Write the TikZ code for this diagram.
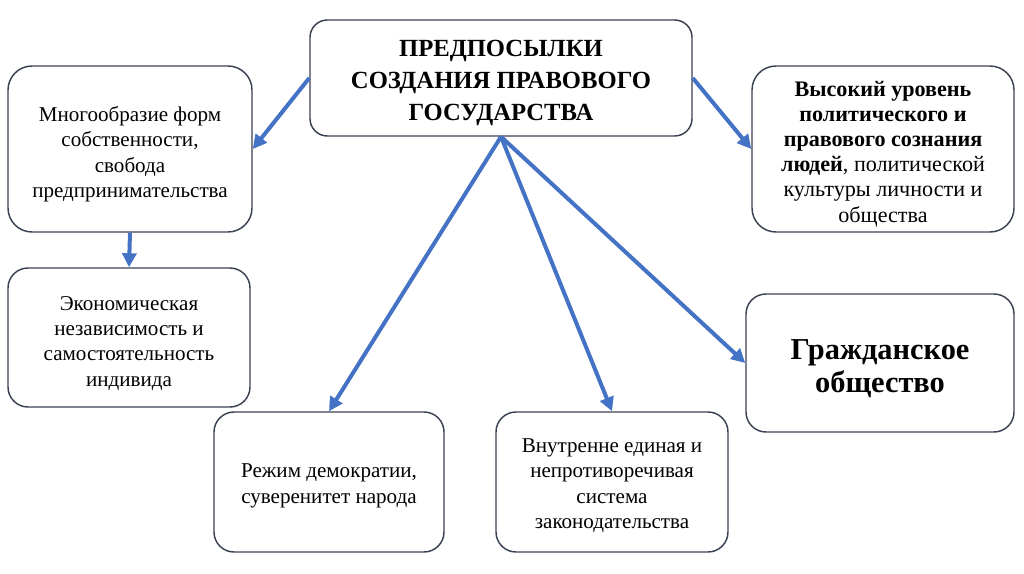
\documentclass[tikz,border=0pt]{standalone}
\usepackage{fontspec}
\setmainfont{Liberation Serif}
\usetikzlibrary{positioning,arrows.meta}

\definecolor{boxline}{RGB}{58,66,82}
\definecolor{arrowblue}{RGB}{68,114,196}
\newcommand{\lift}[1][19pt]{\rule{0pt}{#1}}

\begin{document}
\begin{tikzpicture}[
    x=0.75pt, y=-0.75pt,
    box/.style={draw=boxline, line width=1.1pt, rounded corners=15pt, align=center, inner sep=2pt,
                font=\fontsize{15.8}{19}\selectfont},
    arr/.style={-{Triangle[width=10.5pt,length=10.5pt]}, line width=3pt, draw=arrowblue}
]
    \useasboundingbox (0,0) rectangle (1024,574);

    % Main box
    \node[box, minimum width=286.5pt, minimum height=87pt, rounded corners=13pt,
          font=\fontsize{18.5}{24}\selectfont\bfseries] (premise) at (501,78)
        {\lift[20pt]ПРЕДПОСЫЛКИ\\СОЗДАНИЯ ПРАВОВОГО\\ГОСУДАРСТВА};

    % Left column
    \node[box, minimum width=183pt, minimum height=124.5pt, rounded corners=18pt] (property) at (130,149)
        {\lift Многообразие форм\\собственности,\\свобода\\предпринимательства};
    \node[box, minimum width=181.5pt, minimum height=104.25pt] (economy) at (129,337.5)
        {\lift Экономическая\\независимость и\\самостоятельность\\индивида};

    % Right column
    \node[box, minimum width=196.5pt, minimum height=124.5pt, rounded corners=18pt,
          font=\fontsize{16.6}{18.8}\selectfont] (awareness) at (883,149)
        {\lift\textbf{Высокий уровень}\\\textbf{политического и}\\\textbf{правового сознания}\\\textbf{людей}, политической\\культуры личности и\\общества};
    \node[box, minimum width=201pt, minimum height=103.5pt,
          font=\fontsize{22.8}{24.8}\selectfont\bfseries] (civil) at (880,363)
        {\lift[23pt]Гражданское\\общество};

    % Bottom row
    \node[box, minimum width=172.5pt, minimum height=105pt] (democracy) at (329,482)
        {\lift[16pt]Режим демократии,\\суверенитет народа};
    \node[box, minimum width=174pt, minimum height=105pt] (law) at (612,482)
        {\lift[16pt]Внутренне единая и\\непротиворечивая\\система\\законодательства};

    % Arrows
    \draw[arr] (premise.west) -- (property.east);
    \draw[arr] (premise.east) -- (awareness.west);
    \draw[arr] (premise.south) -- (democracy.north);
    \draw[arr] (premise.south) -- (law.north);
    \draw[arr] (premise.south) -- (civil.west);
    \draw[arr] (property.south) -- (economy.north);
\end{tikzpicture}
\end{document}
